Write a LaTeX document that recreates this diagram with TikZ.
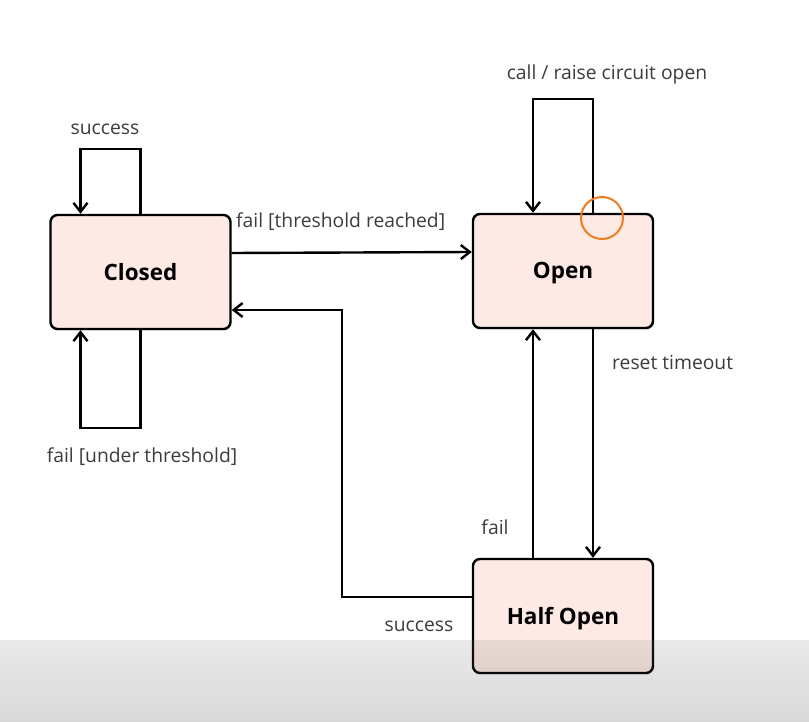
\documentclass[tikz,border=0pt]{standalone}
\usepackage{fontspec}
\setmainfont{Open Sans}
\usetikzlibrary{arrows.meta,calc,positioning,shadows}
\definecolor{statefill}{HTML}{FDEAE4}
\definecolor{labelgray}{HTML}{3C3C3C}
\definecolor{markorange}{HTML}{EE7D22}
\tikzset{
    state/.style = {draw=black, rectangle, rounded corners=7pt, line width=2.4pt,
        fill=statefill, minimum width=180pt, minimum height=114pt,
        text height=16pt, text depth=0pt,
        font=\fontsize{22.5}{24}\selectfont\bfseries,
        drop shadow={opacity=0.12, shadow xshift=1pt, shadow yshift=-2pt}},
    edge/.style = {draw, line width=2.4pt, ->},
    lbl/.style = {text=labelgray, inner sep=0pt, font=\fontsize{19.3}{22}\selectfont},
}
\begin{document}
\begin{tikzpicture}[x=1pt, y=-1pt, >={Straight Barb[length=9pt,width=14pt,line width=2.4pt]}]
	\useasboundingbox (0,0) rectangle (809,722);
	\fill[white] (0,0) rectangle (809,722);

	% diagram blocks
	\node (closed) [state] at (140.5,272) {Closed};
	\node (open) [state] at (563,271) {Open};
	\node (halfOpen) [state] at (563,616) {Half Open};

	% corner of the way back to closed
	\coordinate (backBend) at (342,310);

	%% loops
	% Closed: success
	\draw [edge] (closed.north) -- ++(0,-65) -| ([xshift=-60pt]closed.north);
	\node (closedTopLbl) [lbl] at (105,129) {success};
	% Closed: fail under threshold
	\draw [edge] (closed.south) -- ++(0,98) -| ([xshift=-60pt]closed.south);
	\node (closedBotLbl) [lbl] at (142,457) {fail [under threshold]};
	% Open: call
	\draw [edge] ([xshift=30pt]open.north) -- ++(0,-114) -| ([xshift=-30pt]open.north);
	\node (openTopLbl) [lbl] at (607,74) {call / raise circuit open};
	\draw [markorange, line width=2pt] (602,218) circle (21pt);

	%% transitions
	\draw [edge] ([yshift=19pt]closed.east) -- ([yshift=19pt]open.west);
	\node (reachedLbl) [lbl, anchor=west] at (236,222) {fail [threshold reached]};
	\draw [edge] ([xshift=30pt]open.south) -- ([xshift=30pt]halfOpen.north);
	\node (resetLbl) [lbl, anchor=west] at (612,363) {reset timeout};
	\draw [edge] ([xshift=-30pt]halfOpen.north) -- ([xshift=-30pt]open.south);
	\node (failLbl) [lbl] at (495,527) {fail};
	\draw [edge] ([yshift=19pt]halfOpen.west) -| (backBend) -- ([yshift=-38pt]closed.east);
	\node (successLbl) [lbl] at (419,626) {success};

	% player bar
	\shade [top color=black!55, bottom color=black, opacity=0.15] (0,640) rectangle (809,722);
\end{tikzpicture}
\end{document}
